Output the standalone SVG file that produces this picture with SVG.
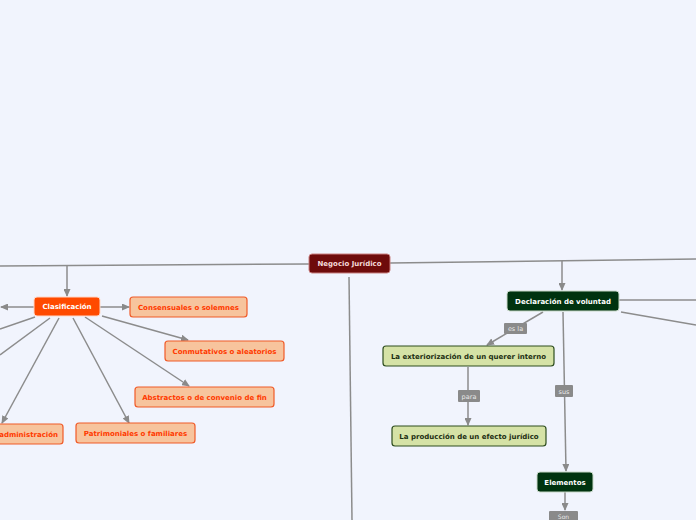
<svg xmlns="http://www.w3.org/2000/svg" width="696" height="520" viewBox="0 0 696 520">
<defs>
<marker id="arr" markerWidth="8" markerHeight="7" refX="7" refY="3.5" orient="auto" markerUnits="userSpaceOnUse">
<path d="M0,0 L8,3.5 L0,7 z" fill="#8a8a8a"/>
</marker>
<style>
.ln{stroke:#8c8c8c;stroke-width:1.5;fill:none}
.t{font-family:"DejaVu Sans",Verdana,sans-serif;font-weight:bold;font-size:7px;text-anchor:middle}
.lbl{fill:#8a8a8a}
.lt{font-family:"DejaVu Sans",Verdana,sans-serif;font-size:6.5px;fill:#e8e8e8;text-anchor:middle}
.peach{fill:#f7c49d;stroke:#f05a28;stroke-width:1.2}
.pt{fill:#ff3a00}
.lg{fill:#d5e2a6;stroke:#2e4d1f;stroke-width:1.2}
.lgt{fill:#1c2e12}
.dg{fill:#00330f;stroke:#c8d8c8;stroke-width:1}
.wt{fill:#ffffff}
</style>
</defs>
<rect width="696" height="520" fill="#f1f4fd"/>
<g id="connectors">
<line class="ln" x1="309" y1="264" x2="0" y2="266"/>
<line class="ln" x1="67" y1="266" x2="67" y2="296" marker-end="url(#arr)"/>
<line class="ln" x1="390" y1="263" x2="696" y2="259"/>
<line class="ln" x1="562" y1="261" x2="562" y2="290" marker-end="url(#arr)"/>
<line class="ln" x1="349" y1="277" x2="352" y2="520"/>
<line class="ln" x1="34" y1="307" x2="1" y2="307" marker-end="url(#arr)"/>
<line class="ln" x1="100" y1="307" x2="129" y2="307" marker-end="url(#arr)"/>
<line class="ln" x1="35" y1="317" x2="0" y2="329"/>
<line class="ln" x1="50" y1="318" x2="0" y2="355"/>
<line class="ln" x1="59" y1="318" x2="2" y2="423" marker-end="url(#arr)"/>
<line class="ln" x1="73" y1="318" x2="129" y2="423" marker-end="url(#arr)"/>
<line class="ln" x1="85" y1="317" x2="189" y2="386" marker-end="url(#arr)"/>
<line class="ln" x1="102" y1="316" x2="188" y2="340" marker-end="url(#arr)"/>
<line class="ln" x1="619" y1="300" x2="696" y2="300"/>
<line class="ln" x1="621" y1="312" x2="696" y2="325"/>
<line class="ln" x1="543" y1="312" x2="487" y2="345" marker-end="url(#arr)"/>
<line class="ln" x1="563" y1="312" x2="566" y2="471" marker-end="url(#arr)"/>
<line class="ln" x1="468" y1="367" x2="468" y2="425" marker-end="url(#arr)"/>
<line class="ln" x1="565" y1="492" x2="565" y2="510" marker-end="url(#arr)"/>
<rect class="lbl" x="504" y="323" width="23" height="11" rx="1"/>
<text class="lt" x="515.5" y="331">es la</text>
<rect class="lbl" x="458" y="390" width="22" height="12" rx="1"/>
<text class="lt" x="469" y="398.5">para</text>
<rect class="lbl" x="555" y="385" width="18" height="12" rx="1"/>
<text class="lt" x="564" y="393.5">sus</text>
<rect class="lbl" x="549" y="511" width="29" height="14" rx="1"/>
<text class="lt" x="563.5" y="518.5" style="font-size:6px">Son</text>
</g>
<g id="negocio">
<rect x="309" y="254" width="81" height="19" rx="3" fill="#6e0b0b" stroke="#c98080" stroke-width="1"/>
<text class="t" x="349.5" y="266" fill="#f5dada">Negocio Jurídico</text>
</g>
<g id="clasificacion">
<rect x="34" y="297" width="66" height="19" rx="3" fill="#ff4a00" stroke="#ffd8c8" stroke-width="1"/>
<text class="t wt" x="67" y="309">Clasificación</text>
</g>
<g id="consensuales">
<rect class="peach" x="130" y="297" width="117" height="20" rx="3"/>
<text class="t pt" x="188.5" y="309.5">Consensuales o solemnes</text>
</g>
<g id="conmutativos">
<rect class="peach" x="165" y="341" width="119" height="20" rx="3"/>
<text class="t pt" x="224.5" y="353.5">Conmutativos o aleatorios</text>
</g>
<g id="abstractos">
<rect class="peach" x="135" y="387" width="139" height="20" rx="3"/>
<text class="t pt" x="204.5" y="399.5">Abstractos o de convenio de fin</text>
</g>
<g id="patrimoniales">
<rect class="peach" x="76" y="423" width="119" height="20" rx="3"/>
<text class="t pt" x="135.5" y="435.5">Patrimoniales o familiares</text>
</g>
<g id="administracion">
<rect class="peach" x="-60" y="424" width="123" height="20" rx="3"/>
<text class="t pt" x="58" y="436.5" style="text-anchor:end">administración</text>
</g>
<g id="declaracion">
<rect class="dg" x="507" y="291" width="112" height="20" rx="3"/>
<text class="t wt" x="563" y="303.5">Declaración de voluntad</text>
</g>
<g id="exteriorizacion">
<rect class="lg" x="383" y="346" width="171" height="20" rx="3"/>
<text class="t lgt" x="468.5" y="358.5">La exteriorización de un querer interno</text>
</g>
<g id="produccion">
<rect class="lg" x="392" y="426" width="154" height="20" rx="3"/>
<text class="t lgt" x="469" y="438.5">La producción de un efecto jurídico</text>
</g>
<g id="elementos">
<rect class="dg" x="537" y="472" width="56" height="20" rx="3"/>
<text class="t wt" x="565" y="484.5">Elementos</text>
</g>
</svg>
